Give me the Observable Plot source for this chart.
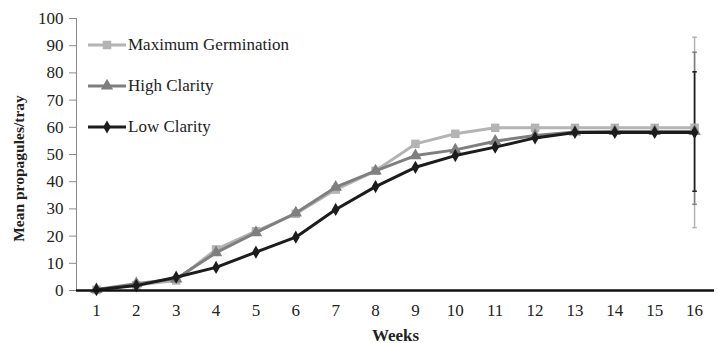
<!DOCTYPE html>
<html><head><meta charset="utf-8">
<script src="https://cdn.jsdelivr.net/npm/d3@7"></script>
<script src="https://cdn.jsdelivr.net/npm/@observablehq/plot@0.6"></script>
<style>
html,body{margin:0;padding:0;background:#fff;}
#chart{position:relative;width:718px;height:343px;}
#legend{position:absolute;left:0;top:0;}
</style></head>
<body><div id="chart"></div>
<script>
const weeks = [1,2,3,4,5,6,7,8,9,10,11,12,13,14,15,16];
const seriesNames = ["Maximum Germination","High Clarity","Low Clarity"];
const maxGermination = [0.2,2.0,3.7,15.1,21.8,28.2,37.1,44.0,53.9,57.6,59.8,59.8,59.8,59.8,59.8,59.8];
const highClarity    = [0.4,2.5,4.3,13.9,21.3,28.5,38.0,44.0,49.6,51.7,54.9,57.0,58.3,58.5,58.5,58.5];
const lowClarity     = [0.3,1.8,4.9,8.5,14.1,19.6,29.8,38.2,45.3,49.6,52.7,56.1,58.1,58.1,58.1,58.1];
const errWeek = [16,16,16];
const errLow  = [23.1,31.7,36.5];
const errHigh = [93.1,87.6,80.4];
const yTicks = [0,10,20,30,40,50,60,70,80,90,100];

const colors = ["#b4b4b4","#7f7f7f","#1c1c1c"];
const symbols = ["square","triangle","diamond"];
const radii = [4.8,4.6,4.0];
const values = [maxGermination, highClarity, lowClarity];

const data = [];
seriesNames.forEach((s,i)=>weeks.forEach((w,j)=>data.push({series:s, week:w, value:values[i][j]})));
const errs = seriesNames.map((s,i)=>({series:s, week:errWeek[i], lo:errLow[i], hi:errHigh[i]}));

const capSymbol = {draw(ctx, size){ const w = Math.sqrt(size); ctx.moveTo(-w/2,0); ctx.lineTo(w/2,0); }};

const marks = [
  Plot.ruleX([0.5], {stroke:"#8a8a8a", y1:0, y2:100, strokeWidth:1}),
  Plot.axisY({ticks: yTicks, tickSize:7, tickPadding:6, stroke:"#8a8a8a", fontSize:17, fill:"#222",
    label:"Mean propagules/tray", labelAnchor:"center", labelOffset:64, labelArrow:"none"}),
  Plot.axisX({ticks: weeks, tickSize:0, tickPadding:13, fontSize:17, fill:"#222",
    label:"Weeks", labelAnchor:"center", labelOffset:50, labelArrow:"none"}),
];
seriesNames.forEach((s,i)=>{
  const e = errs.filter(d=>d.series===s);
  marks.push(Plot.ruleX(e, {x:"week", y1:"lo", y2:"hi", stroke:colors[i], strokeWidth:1.5}));
  marks.push(Plot.dot(e, {x:"week", y:"lo", symbol:capSymbol, r:2.6, stroke:colors[i], strokeWidth:1.5}));
  marks.push(Plot.dot(e, {x:"week", y:"hi", symbol:capSymbol, r:2.6, stroke:colors[i], strokeWidth:1.5}));
});
seriesNames.forEach((s,i)=>{
  const d = data.filter(e=>e.series===s);
  marks.push(Plot.line(d, {x:"week", y:"value", stroke:colors[i], strokeWidth:3}));
  marks.push(Plot.dot(d, {x:"week", y:"value", symbol:symbols[i], r:radii[i], fill:colors[i], stroke:"none"}));
});
marks.push(Plot.ruleY([0], {stroke:"#111", strokeWidth:2.5}));

const plot = Plot.plot({
  width:718, height:343,
  marginLeft:76, marginRight:4, marginTop:18, marginBottom:53,
  style:{fontFamily:"'Liberation Serif', 'DejaVu Serif', serif", fontSize:"17px", color:"#222", background:"#fff"},
  x:{type:"linear", domain:[0.5,16.5]},
  y:{domain:[0,100]},
  marks
});
const svg = d3.select(plot);
svg.selectAll("[aria-label='x-axis label']").attr("font-weight","bold").attr("font-size","17");
svg.selectAll("[aria-label='y-axis label']").attr("font-weight","bold").attr("font-size","15.5")
  .attr("transform", function(){ const t = this.getAttribute("transform") || ""; return t + " translate(0,14)"; });
svg.selectAll("[aria-label='y-axis label'] text, [aria-label='x-axis label'] text")
  .each(function(){ this.textContent = this.textContent.replace(/\s*[↑→←↓]\s*/g,"").trim(); });
document.getElementById("chart").appendChild(plot);

const leg = d3.select("#chart").append("svg").attr("id","legend").attr("width",718).attr("height",343)
  .style("font-family","'Liberation Serif', serif").style("font-size","17px");
const legY = [45,86,127];
seriesNames.forEach((s,i)=>{
  const g = leg.append("g").attr("transform",`translate(0,${legY[i]})`);
  g.append("line").attr("x1",88).attr("x2",126).attr("y1",0).attr("y2",0).attr("stroke",colors[i]).attr("stroke-width",3);
  const sym = {square:d3.symbolSquare, triangle:d3.symbolTriangle, diamond:d3.symbolDiamond}[symbols[i]];
  g.append("path").attr("d", d3.symbol(sym, Math.PI*radii[i]*radii[i])()).attr("transform","translate(107,0)").attr("fill",colors[i]);
  g.append("text").attr("x",128).attr("y",0).attr("dy","0.32em").attr("fill","#222").text(s);
});
</script></body></html>
